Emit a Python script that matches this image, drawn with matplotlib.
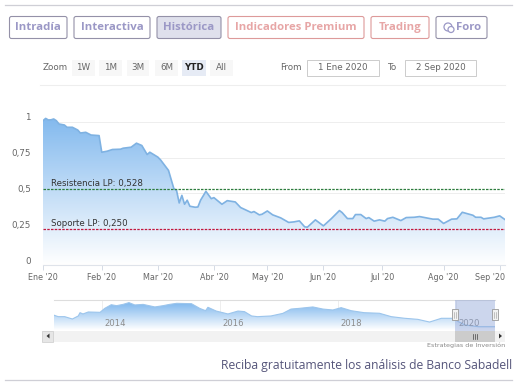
import numpy as np
import matplotlib.pyplot as plt
from matplotlib.colors import LinearSegmentedColormap
from matplotlib.patches import Rectangle, FancyBboxPatch, Circle
from matplotlib.transforms import ScaledTranslation

# main chart, x is the trading session number (the axis skips weekends)
sessions = [0, 1, 2, 3, 4, 5, 6, 8, 9, 11, 13, 14, 16, 18, 21, 22, 24, 26, 29, 30, 33, 35, 37, 39, 40,
            43, 44, 47, 49, 50, 51, 52, 53, 54, 55, 57, 58, 59, 61, 63, 64, 67, 69, 72, 74, 78, 79, 81, 82,
            84, 86, 89, 92, 94, 96, 98, 99, 102, 105, 108, 111, 112, 114, 116, 117, 119, 121, 122, 124,
            126, 128, 129, 131, 134, 136, 139, 141, 146, 148, 150, 153, 155, 157, 161, 162, 164, 165,
            169, 171, 173]
prices = [1.007, 1.023, 1.012, 1.013, 1.019, 1.007, 0.984, 0.977, 0.961, 0.961, 0.942, 0.921, 0.926,
          0.907, 0.903, 0.787, 0.794, 0.806, 0.808, 0.815, 0.822, 0.850, 0.834, 0.771, 0.787,
          0.753, 0.734, 0.660, 0.533, 0.521, 0.433, 0.486, 0.424, 0.452, 0.410, 0.403, 0.405, 0.452,
          0.514, 0.463, 0.470, 0.424, 0.449, 0.440, 0.401, 0.366, 0.373, 0.350, 0.354, 0.377, 0.350,
          0.329, 0.297, 0.301, 0.308, 0.266, 0.264, 0.315, 0.273, 0.324, 0.380, 0.366, 0.324, 0.324,
          0.352, 0.352, 0.324, 0.331, 0.306, 0.315, 0.306, 0.324, 0.333, 0.310, 0.331, 0.333, 0.338,
          0.320, 0.320, 0.290, 0.320, 0.322, 0.368, 0.347, 0.333, 0.333, 0.322, 0.333, 0.343, 0.317]
month_ticks = [0, 22, 43, 64, 84, 105, 127, 150, 171]
month_labels = ["Ene '20", "Feb '20", "Mar '20", "Abr '20", "May '20", "Jun '20", "Jul '20", "Ago '20", "Sep '20"]
y_ticks = [0, 0.25, 0.5, 0.75, 1]
y_labels = ['0', '0,25', '0,5', '0,75', '1']
resistencia = 0.528
soporte = 0.250

# navigator series
nav_years = [2013.18, 2013.26, 2013.37, 2013.50, 2013.60, 2013.63, 2013.68, 2013.77, 2013.97, 2014.05,
             2014.16, 2014.25, 2014.36, 2014.46, 2014.56, 2014.70, 2014.90, 2015.04, 2015.15, 2015.27,
             2015.52, 2015.66, 2015.76, 2015.80, 2015.94, 2016.14, 2016.31, 2016.42, 2016.54, 2016.64,
             2016.87, 2017.07, 2017.21, 2017.35, 2017.58, 2017.75, 2017.92, 2018.06, 2018.23, 2018.45,
             2018.71, 2018.91, 2019.14, 2019.36, 2019.56, 2019.76, 2019.96, 2020.05, 2020.16, 2020.39, 2020.67]
nav_values = [1.28, 1.14, 1.14, 0.94, 1.20, 1.48, 1.37, 1.54, 1.51, 1.85,
              2.16, 2.08, 2.19, 2.34, 2.14, 2.19, 1.97, 2.08, 2.19, 2.28,
              2.25, 1.85, 1.65, 1.94, 1.62, 1.37, 1.62, 1.57, 1.20, 1.14,
              1.20, 1.42, 1.79, 1.85, 1.97, 1.79, 1.71, 1.91, 1.65, 1.48,
              1.43, 1.14, 1.00, 0.91, 0.68, 1.00, 1.00, 0.71, 0.43, 0.28, 0.28]
nav_ticks = [2014, 2016, 2018, 2020]

W, H = 518, 390
PX = 0.72  # points per pixel at dpi 100
GREY = '#666666'
PURPLE = '#9b98c6'
RED = '#e7a6a6'

fig = plt.figure(figsize=(W / 100, H / 100), dpi=100)


def px_axes(left, top, right, bottom):
    return fig.add_axes([left / W, 1 - bottom / H, (right - left) / W, (bottom - top) / H])


def gradient_fill(ax, x, y, top_color):
    cmap = LinearSegmentedColormap.from_list('fade', [top_color, '#ffffff'])
    x0, x1 = ax.get_xlim()
    y0, y1 = ax.get_ylim()
    img = ax.imshow(np.linspace(0, 1, 200).reshape(-1, 1), cmap=cmap, aspect='auto',
                    extent=(x0, x1, y0, y1), origin='upper', zorder=1)
    poly = ax.fill_between(x, y, y0, color='none')
    img.set_clip_path(poly.get_paths()[0], transform=ax.transData)
    ax.set_xlim(x0, x1)
    ax.set_ylim(y0, y1)


# main chart
ax = px_axes(43, 100, 505, 265)
ax.set_xlim(0, 173)
ax.set_ylim(0, 165 / 143.3)
gradient_fill(ax, sessions, prices, '#74b1ec')
ax.plot(sessions, prices, color='#7fb2e2', lw=1.2, zorder=3)
ax.axhline(resistencia, color='#2e7d3e', lw=0.9, ls=(0, (2, 1)), zorder=4)
ax.axhline(soporte, color='#c2183f', lw=0.9, ls=(0, (2, 1)), zorder=4)
ax.text(2.9, resistencia + 0.008, 'Resistencia LP: 0,528', fontsize=6.2, color='#333333', va='bottom', zorder=5)
ax.text(2.9, soporte + 0.008, 'Soporte LP: 0,250', fontsize=6.2, color='#333333', va='bottom', zorder=5)
for s in ['top', 'right', 'left']:
    ax.spines[s].set_visible(False)
ax.spines['bottom'].set_color('#dfe3ea')
ax.set_yticks(y_ticks)
ax.set_yticklabels([])
ax.tick_params(axis='y', length=0)
ax.grid(axis='y', color='#eeeeee', lw=0.7)
ax.set_axisbelow(True)
ax.set_xticks(month_ticks)
ax.set_xticklabels(month_labels, fontsize=5.8, color=GREY)
ax.tick_params(axis='x', length=5 * PX, width=0.7, color='#d5dbe5', pad=2.5)
# the last label is pushed left so it stays inside the plot
sep_label = ax.get_xticklabels()[-1]
sep_label.set_transform(sep_label.get_transform() + ScaledTranslation(-9.5 / 100, 0, fig.dpi_scale_trans))
for val, lab in zip(y_ticks, y_labels):
    ax.annotate(lab, xy=(0, val), xycoords=ax.get_yaxis_transform(), xytext=(-12 * PX, 4 * PX),
                textcoords='offset points', ha='right', va='center', fontsize=6.3, color=GREY)

# navigator
nav = px_axes(53.5, 300, 495, 330)
nav.set_xlim(2013.18, 2020.67)
nav.set_ylim(0, 30 / 11.7)
gradient_fill(nav, nav_years, nav_values, '#74b1ec')
nav.plot(nav_years, nav_values, color='#9cc5ec', lw=0.8, zorder=3)
for s in ['left', 'right', 'bottom']:
    nav.spines[s].set_visible(False)
nav.spines['top'].set_color('#dddddd')
nav.set_yticks([])
nav.set_xticks(nav_ticks)
nav.set_xticklabels([])
nav.tick_params(axis='x', length=0)
nav.grid(axis='x', color='#eeeeee', lw=0.7)
nav.set_axisbelow(True)
for yr in nav_ticks:
    nav.annotate(str(yr), xy=(yr, 0), xycoords=('data', 'axes fraction'), xytext=(3 * PX, 6 * PX),
                 textcoords='offset points', fontsize=6.1, color='#8c8c8c', va='center', zorder=6)

# everything else is page furniture, drawn in pixel coordinates
page = fig.add_axes([0, 0, 1, 1], zorder=10)
page.set_xlim(0, W)
page.set_ylim(H, 0)
page.axis('off')
page.patch.set_alpha(0)


def button(x0, x1, label, edge, text_color, fill='#ffffff', text_x=None):
    page.add_patch(FancyBboxPatch((x0, 16.5), x1 - x0, 22, boxstyle='round,pad=0,rounding_size=2',
                                  fc=fill, ec=edge, lw=0.8))
    page.text((x0 + x1) / 2 if text_x is None else text_x, 27.8, label, color=text_color, fontsize=8.2,
              family='Open Sans', weight='bold', ha='center', va='center')


page.plot([5, 512], [4.5, 4.5], color='#cfcfd6', lw=0.9)
button(9.5, 67, 'Intradía', '#9491a8', PURPLE)
button(74, 150, 'Interactiva', '#9491a8', PURPLE)
button(157, 221, 'Histórica', '#9491a8', PURPLE, fill='#dfe0ec')
button(228, 364, 'Indicadores Premium', '#dd9a9a', RED)
button(371, 429, 'Trading', '#dd9a9a', RED)
button(436, 487, 'Foro', '#9491a8', PURPLE, text_x=469)
page.add_patch(Circle((448, 27), 4, fc='none', ec=PURPLE, lw=0.9))
page.add_patch(Circle((451, 29.5), 3, fc='#ffffff', ec=PURPLE, lw=0.9))

page.text(43, 67.5, 'Zoom', fontsize=6.3, color=GREY, va='center')
zoom_buttons = [('1W', 72, 95), ('1M', 99, 122), ('3M', 127, 149), ('6M', 155, 178), ('YTD', 182, 206), ('All', 210, 233)]
for lab, x0, x1 in zoom_buttons:
    on = lab == 'YTD'
    page.add_patch(Rectangle((x0, 60), x1 - x0, 16, fc='#e6ebf5' if on else '#f7f7f7', ec='none'))
    page.text((x0 + x1) / 2, 67, lab, fontsize=6.3, color='#222222' if on else GREY, ha='center', va='center',
              weight='bold' if on else 'normal')
page.text(280, 67, 'From', fontsize=6.3, color=GREY, va='center')
page.text(387, 67, 'To', fontsize=6.3, color=GREY, va='center')
for x0, x1, lab in [(307, 379, '1 Ene 2020'), (405, 476, '2 Sep 2020')]:
    page.add_patch(Rectangle((x0, 59.5), x1 - x0, 16.5, fc='#ffffff', ec='#cccccc', lw=0.7))
    page.text((x0 + x1) / 2, 67, lab, fontsize=6.3, color=GREY, ha='center', va='center')
page.plot([40, 505], [85, 85], color='#eeeeee', lw=0.8)

# navigator selection, handles and scrollbar
page.add_patch(Rectangle((42, 330.5), 463, 11, fc='#f2f2f2', ec='none'))
page.add_patch(Rectangle((42, 330.5), 11, 11, fc='#e6e6e6', ec='#cccccc', lw=0.5))
page.add_patch(Rectangle((455, 330.5), 40, 11, fc='#cccccc', ec='none'))
page.add_patch(Rectangle((455, 300), 40, 30.5, fc='#8ea4d8', ec='none', alpha=0.45))
for x in [455, 495]:
    page.add_patch(Rectangle((x - 3, 309), 6, 11, fc='#f2f2f2', ec='#999999', lw=0.6))
    page.plot([x - 1, x - 1], [311.5, 317.5], color='#999999', lw=0.4)
    page.plot([x + 1, x + 1], [311.5, 317.5], color='#999999', lw=0.4)
for x in [473, 475, 477]:
    page.plot([x, x], [333.5, 338.5], color='#444444', lw=0.5)
page.fill([49.5, 49.5, 46.5], [333.5, 338.5, 336], color='#333333', lw=0)
page.fill([499, 499, 502], [333.5, 338.5, 336], color='#333333', lw=0)
page.text(505, 345.5, 'Estrategias de Inversión', fontsize=4.6, color='#888888', ha='right', va='center')

page.text(512, 366, 'Reciba gratuitamente los análisis de Banco Sabadell', fontsize=8.75, color='#55557a',
          family='Open Sans', ha='right', va='center')
page.plot([5, 512], [380, 380], color='#cfcfd6', lw=0.9)

fig.savefig('out.png', dpi=100)
